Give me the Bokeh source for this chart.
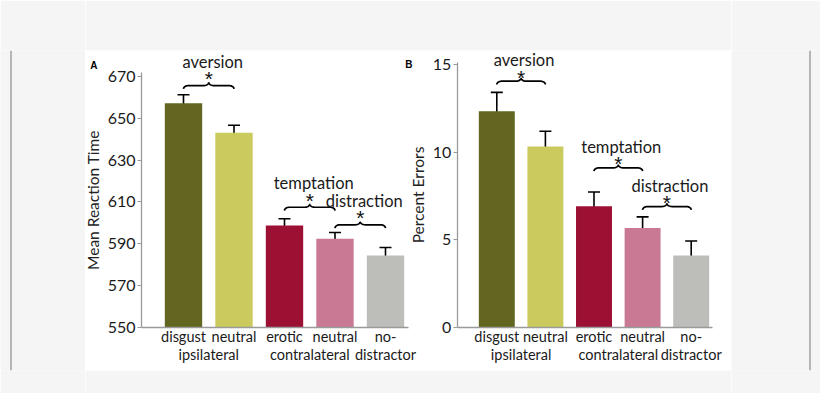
import numpy as np
from bokeh.plotting import figure
from bokeh.models import (Range1d, FixedTicker, LinearAxis, ColumnDataSource,
                          Whisker, TeeHead, Span)
from bokeh.layouts import row
from bokeh.core.properties import value
from bokeh.embed import file_html
from bokeh.resources import INLINE

# ---------------- data ----------------
conditions = ["disgust", "neutral", "erotic", "neutral", "no-"]
groups = ["ipsilateral", "contralateral", "distractor"]
group_members = [[0, 1], [2, 3], [4]]
colors = ["#636620", "#cbca5e", "#9c1034", "#c97994", "#bdbdba"]

rt_mean = [657.2, 643.0, 598.7, 592.3, 584.3]
rt_sem = [4.0, 3.6, 3.2, 3.0, 3.8]
rt_ticks = [550, 570, 590, 610, 630, 650, 670]

err_mean = [12.34, 10.32, 6.91, 5.67, 4.09]
err_sem = [1.07, 0.87, 0.81, 0.63, 0.83]
err_ticks = [0, 5, 10, 15]

comparisons = ["aversion", "temptation", "distraction"]
comparison_pairs = [(0, 1), (2, 3), (3, 4)]
rt_brace_level = [665.6, 607.4, 599.0]
err_brace_level = [14.05, 9.10, 6.89]

FONT = "Lato"
BG = "#f5f5f5"
TXT = "#1a1a1a"
AX = "#9a9a9a"
# page is drawn edge to edge (the template has no body margin)
LEFT_W, MAIN_W, RIGHT_W = 85, 646, 89
FRAME_H, TOP, BOT = 320, 50, 23
H = TOP + FRAME_H + BOT


def brace(xa, xb, level, sx, sy, rx=5.0, ry=3.3, n=12):
    w = (xb - xa) * sx
    t1 = np.linspace(np.pi, np.pi / 2, n)
    u1 = rx + rx * np.cos(t1)
    v1 = -ry + ry * np.sin(t1)
    t2 = np.linspace(1.5 * np.pi, 2 * np.pi, n)
    u2 = w / 2 - rx + rx * np.cos(t2)
    v2 = ry + ry * np.sin(t2)
    u = np.concatenate([u1, u2])
    v = np.concatenate([v1, v2])
    uf = np.concatenate([u, (w - u)[::-1]])
    vf = np.concatenate([v, v[::-1]])
    return xa + uf / sx, level + vf / sy


# panel geometry (pixels inside the white frame)
geo = {
    "A": dict(sx=50.5, first=98.0, sy=41.8 / 20, base=550, base_px=43.3,
              axis_px=56.0, right_px=323.0, top_bound=672),
    "B": dict(sx=48.6, first=411.3, sy=17.51, base=0, base_px=43.3,
              axis_px=371.7, right_px=627.3, top_bound=15.12),
}
for g in geo.values():
    g["x0"] = 0.5 - g["first"] / g["sx"]
    g["x1"] = g["x0"] + MAIN_W / g["sx"]
    g["y0"] = g["base"] - g["base_px"] / g["sy"]
    g["y1"] = g["y0"] + FRAME_H / g["sy"]
    g["axis_x"] = g["x0"] + g["axis_px"] / g["sx"]
    g["right_x"] = g["x0"] + g["right_px"] / g["sx"]

gA, gB = geo["A"], geo["B"]
p = figure(width=MAIN_W, height=H, output_backend="svg", toolbar_location=None,
           x_range=Range1d(gA["x0"], gA["x1"]), y_range=Range1d(gA["y0"], gA["y1"]),
           x_axis_location=None, y_axis_location=None,
           min_border_left=0, min_border_right=0, min_border_top=TOP,
           min_border_bottom=BOT, background_fill_color="white",
           border_fill_color=BG, outline_line_color=None)
p.extra_x_ranges = {"B": Range1d(gB["x0"], gB["x1"])}
p.extra_y_ranges = {"B": Range1d(gB["y0"], gB["y1"])}
p.grid.visible = False


def draw_panel(key, means, sems, ticks, ylabel, brace_levels, label_dy, star_dy,
               label_dx, letter, letter_px):
    g = geo[key]
    rn = dict(x_range_name="default" if key == "A" else "B",
              y_range_name="default" if key == "A" else "B")
    xs = [i + 0.5 for i in range(len(means))]
    src = ColumnDataSource(dict(x=xs, top=means, color=colors,
                                upper=[m + s for m, s in zip(means, sems)],
                                lower=[m - s for m, s in zip(means, sems)]))
    p.vbar(x="x", top="top", bottom=g["base"], width=0.74, fill_color="color",
           line_color=None, source=src, **rn)
    p.add_layout(Whisker(source=src, base="x", upper="upper", lower="lower",
                         line_color="black", line_width=1.6,
                         upper_head=TeeHead(size=12, line_width=1.6, line_color="black"),
                         lower_head=TeeHead(size=12, line_width=1.6, line_color="black"),
                         **rn))

    ya = LinearAxis(fixed_location=g["axis_x"], ticker=FixedTicker(ticks=ticks),
                    bounds=(g["base"], g["top_bound"]), axis_label=ylabel,
                    axis_label_text_font=FONT, axis_label_text_font_style="normal",
                    axis_label_text_font_size="15.5px", axis_label_text_color="#222222",
                    axis_label_standoff=3, major_label_text_font=FONT,
                    major_label_text_font_size="16px", major_label_text_color=TXT,
                    major_label_standoff=2, axis_line_color=AX, axis_line_width=1.3,
                    major_tick_line_color=AX, major_tick_out=4, major_tick_in=0,
                    minor_tick_line_color=None, **rn)
    p.add_layout(ya, "left")

    xa = LinearAxis(fixed_location=g["base"], ticker=FixedTicker(ticks=xs),
                    major_label_overrides={x: c for x, c in zip(xs, conditions)},
                    bounds=(g["axis_x"], g["right_x"]), axis_line_color=AX,
                    axis_line_width=1.3, major_tick_line_color=None,
                    major_tick_out=0, major_tick_in=0, minor_tick_line_color=None,
                    major_label_standoff=1, major_label_text_font=FONT,
                    major_label_text_font_size="14.5px", major_label_text_color=TXT,
                    **rn)
    p.add_layout(xa, "below")

    gpos = [float(np.mean([xs[i] for i in m])) for m in group_members]
    ga = LinearAxis(fixed_location=g["base"], ticker=FixedTicker(ticks=gpos),
                    major_label_overrides={q: n for q, n in zip(gpos, groups)},
                    axis_line_color=None, major_tick_line_color=None,
                    major_tick_out=0, major_tick_in=0, minor_tick_line_color=None,
                    major_label_standoff=19, major_label_text_font=FONT,
                    major_label_text_font_size="14.5px", major_label_text_color=TXT,
                    **rn)
    p.add_layout(ga, "below")

    for name, (a, b), lev in zip(comparisons, comparison_pairs, brace_levels):
        bx, by = brace(xs[a], xs[b], lev, g["sx"], g["sy"])
        p.line(bx, by, line_width=1.7, line_color="black", **rn)
        mid = (xs[a] + xs[b]) / 2
        p.text(x=[mid + label_dx / g["sx"]], y=[lev], text=[name], y_offset=-label_dy,
               text_align="center", text_baseline="middle",
               text_font=value(FONT), text_font_size="16.5px", text_color=TXT, **rn)
        p.text(x=[mid], y=[lev], text=["*"], y_offset=-star_dy + 5,
               text_align="center", text_baseline="middle",
               text_font=value("Liberation Sans"), text_font_size="21px",
               text_color="#111111", **rn)

    lx, ly = letter_px
    p.text(x=[g["x0"] + lx / g["sx"]], y=[g["y1"] - ly / g["sy"]], text=[letter],
           text_align="center", text_baseline="middle",
           text_font=value("Liberation Sans"), text_font_style="bold",
           text_font_size="10px", text_color="black", **rn)


draw_panel("A", rt_mean, rt_sem, rt_ticks, "Mean Reaction Time", rt_brace_level,
           24, 12, 4, "A", (8.3, 15))
draw_panel("B", err_mean, err_sem, err_ticks, "Percent Errors", err_brace_level,
           21, 9, 3, "B", (323.3, 14))


def strip(width, line_x):
    # frame = the extent of the thin frame line (page y 40..383)
    s = figure(width=width, height=H, output_backend="svg", toolbar_location=None,
               x_range=Range1d(0, width), y_range=Range1d(0, 1),
               x_axis_location=None, y_axis_location=None,
               min_border_left=0, min_border_right=0, min_border_top=40,
               min_border_bottom=H - 383,
               background_fill_color=BG, border_fill_color=BG,
               outline_line_color=None)
    s.grid.visible = False
    s.add_layout(Span(location=line_x, dimension="height",
                      line_color="#949494", line_width=1.3))
    return s


root = row(strip(LEFT_W, 10.5), p, strip(RIGHT_W, 78.5))

open("out.html", "w").write(file_html(root, INLINE, title="chart"))
